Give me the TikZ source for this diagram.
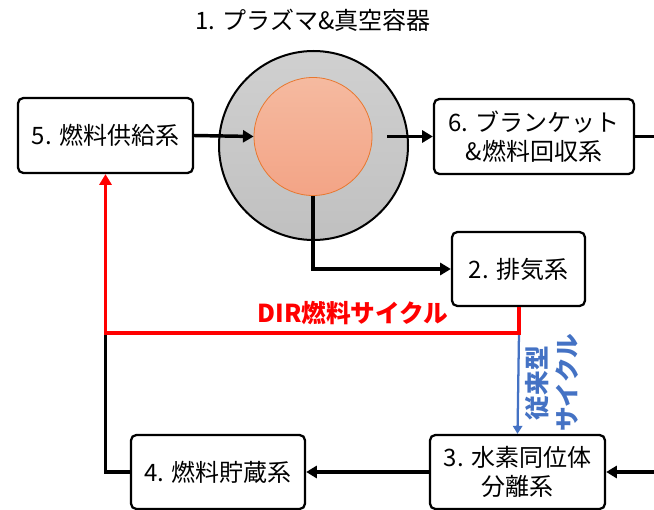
\documentclass[tikz,border=0pt]{standalone}
\usepackage{fontspec}
\setmainfont{Noto Sans CJK JP}
\usetikzlibrary{arrows.meta}
\definecolor{dirred}{HTML}{FF0000}
\definecolor{convblue}{HTML}{4472C4}
\definecolor{plasmaTop}{HTML}{F5BAA0}
\definecolor{plasmaBot}{HTML}{F3A486}
\definecolor{plasmaEdge}{HTML}{E8772E}
\definecolor{vesselTop}{HTML}{D0D0D0}
\definecolor{vesselBot}{HTML}{C0C0C0}
\tikzset{
  sysbox/.style={draw=black, line width=1.7pt, rounded corners=4pt, fill=white,
    align=center, font=\fontsize{18}{22}\selectfont, inner sep=0pt},
  flow/.style={line width=2.6pt, -{Triangle[length=8pt,width=9pt]}},
  plainflow/.style={line width=2.6pt},
  dirflow/.style={draw=dirred, line width=2.4pt, -{Triangle[length=8pt,width=9pt]}},
  convflow/.style={draw=convblue, line width=1.7pt, -{Triangle[length=6pt,width=7pt]}},
}
\begin{document}
\begin{tikzpicture}[x=0.75pt,y=-0.75pt]
\useasboundingbox (0,0) rectangle (654,510);

% title
\node[font=\fontsize{18}{22}\selectfont] (title) at (313,20) {1. プラズマ\&真空容器};

% vessel and plasma
\node[circle, draw=black, line width=1.5pt, top color=vesselTop, bottom color=vesselBot,
      minimum size=189*0.75pt, inner sep=0pt] (vessel) at (313.5,145.5) {};
\node[circle, draw=plasmaEdge, line width=0.6pt, top color=plasmaTop, bottom color=plasmaBot,
      minimum size=118*0.75pt, inner sep=0pt] (plasma) at (313,136.5) {};

% boxes
\node[sysbox, minimum width=175*0.75pt, minimum height=75*0.75pt] (b5) at (105.5,135.5) {5. 燃料供給系};
\node[sysbox, minimum width=200*0.75pt, minimum height=75*0.75pt] (b6) at (534,136.5) {6. ブランケット\\\&燃料回収系};
\node[sysbox, minimum width=133*0.75pt, minimum height=74*0.75pt] (b2) at (518.5,269) {2. 排気系};
\node[sysbox, minimum width=175*0.75pt, minimum height=74*0.75pt] (b3) at (517.5,472) {3. 水素同位体\\分離系};
\node[sysbox, minimum width=174*0.75pt, minimum height=74*0.75pt] (b4) at (218,472) {4. 燃料貯蔵系};

% helper coordinates
\coordinate (pout) at (387,136.5);
\coordinate (edge6) at (654,136.5);
\coordinate (edge3) at (654,472);
\coordinate (rj) at (519,333);
\coordinate (lj) at (105.5,333);

% connectors
\draw[flow] (b5.east) -- (plasma.west);
\draw[flow] (pout) -- (b6.west);
\draw[plainflow] (b6.east) -- (edge6);
\draw[flow] (plasma.south) |- (b2.west);
\draw[flow] (b3.west) -- (b4.east);
\draw[flow] (edge3) -- (b3.east);
\draw[plainflow] (b4.west) -| (lj);
\draw[convflow] (rj) -- (b3.north);
\draw[dirflow] (rj |- b2.south) -- (rj) -- (lj) -- (b5.south);

% labels
\node[anchor=east, text=dirred, font=\fontsize{18.5}{22}\selectfont\bfseries] (dirlabel) at (453,313) {DIR燃料サイクル};
\node[rotate=90, text=convblue, align=center, font=\fontsize{18.5}{23}\selectfont\bfseries] (convlabel) at (552,383) {従来型\\サイクル};
\end{tikzpicture}
\end{document}
